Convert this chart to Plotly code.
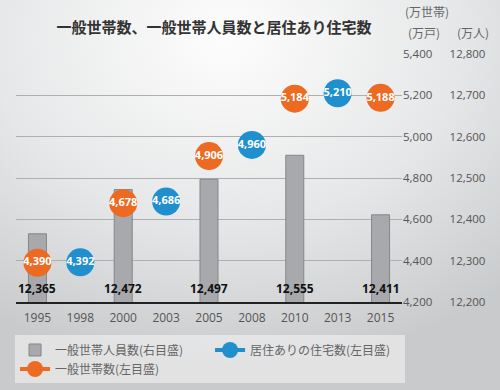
import plotly.graph_objects as go

years = ["1995", "1998", "2000", "2003", "2005", "2008", "2010", "2013", "2015"]
# 一般世帯人員数 (万人) – right axis
members = [12365, None, 12472, None, 12497, None, 12555, None, 12411]
# 居住ありの住宅数 (万戸) – left axis
housing = [None, 4392, None, 4686, None, 4960, None, 5210, None]
# 一般世帯数 (万世帯) – left axis
households = [4390, None, 4678, None, 4906, None, 5184, None, 5188]

left_ticks = [4200, 4400, 4600, 4800, 5000, 5200, 5400]
right_ticks = [12200, 12300, 12400, 12500, 12600, 12700, 12800]

BLUE = "#1f8fce"
ORANGE = "#ec6a21"
FONT = "Noto Sans CJK JP, Noto Sans, sans-serif"
NUMFONT = "Open Sans"

def fmt(v):
    return "" if v is None else f"{v:,}"

fig = go.Figure()

# bars on the base y axis (drawn underneath), scatter on overlaying y2
fig.add_trace(go.Bar(
    x=years, y=members, yaxis="y", name="一般世帯人員数(右目盛)",
    marker=dict(color="#a8a9ac", line=dict(color="#86878a", width=1)),
    width=0.42,
))
fig.add_trace(go.Scatter(
    x=years, y=housing, yaxis="y2", name="居住ありの住宅数(左目盛)",
    mode="lines+markers+text", connectgaps=False,
    line=dict(color=BLUE, width=4),
    marker=dict(color=BLUE, size=28),
    text=[fmt(v) for v in housing], textposition="middle center",
    textfont=dict(color="white", size=11, family=NUMFONT, weight="bold"),
))
fig.add_trace(go.Scatter(
    x=years, y=households, yaxis="y2", name="一般世帯数(左目盛)",
    mode="lines+markers+text", connectgaps=False,
    line=dict(color=ORANGE, width=4),
    marker=dict(color=ORANGE, size=28),
    text=[fmt(v) for v in households], textposition="middle center",
    textfont=dict(color="white", size=11, family=NUMFONT, weight="bold"),
))

annotations = []
for i, v in enumerate(members):
    if v is not None:
        annotations.append(dict(
            x=i, y=right_ticks[0], xref="x", yref="y", text=f"{v:,}",
            showarrow=False, yanchor="bottom", yshift=3,
            font=dict(family=NUMFONT, size=12, color="#111", weight="bold"),
        ))

for text, x, y in [("(万世帯)", 0.86, 1.17), ("(万戸)", 0.853, 1.085), ("(万人)", 0.956, 1.085)]:
    annotations.append(dict(text=text, x=x, y=y, xref="paper", yref="paper",
                            xanchor="center", yanchor="middle",
                            showarrow=False, font=dict(family=FONT, size=12, color="#666")))

bg_svg = (
    "data:image/svg+xml;utf8,"
    "<svg xmlns='http://www.w3.org/2000/svg' width='500' height='390'>"
    "<defs><radialGradient id='g' cx='0.45' cy='0.1' r='0.85'>"
    "<stop offset='0' stop-color='%23fdfdfd'/>"
    "<stop offset='0.55' stop-color='%23e6e7e8'/>"
    "<stop offset='1' stop-color='%23c9cacc'/>"
    "</radialGradient></defs>"
    "<rect width='500' height='390' fill='url(%23g)'/></svg>"
)

fig.update_layout(
    width=500, height=390,
    margin=dict(l=16, r=6, t=54, b=88, autoexpand=False),
    paper_bgcolor="#dfe0e1", plot_bgcolor="rgba(0,0,0,0)",
    images=[dict(source=bg_svg, xref="paper", yref="paper", x=-16/478, y=1 + 54/248,
                 sizex=500/478, sizey=390/248, xanchor="left", yanchor="top",
                 sizing="stretch", layer="below")],
    title=dict(text="<b>一般世帯数、一般世帯人員数と居住あり住宅数</b>",
               x=0.428, xanchor="center", y=0.928, yanchor="middle",
               font=dict(family=FONT, size=15, color="#333")),
    font=dict(family=FONT, color="#555"),
    showlegend=True,
    legend=dict(orientation="h", x=-0.002, xanchor="left", y=-0.135, yanchor="top",
                bgcolor="rgba(245,245,245,0.55)", entrywidth=150, entrywidthmode="pixels",
                font=dict(family=FONT, size=12, color="#666"),
                tracegroupgap=0),
    xaxis=dict(type="category", categoryorder="array", categoryarray=years,
               range=[-0.5, len(years) - 0.5], autorange=False,
               domain=[0, 386/478], showline=True, linecolor="#222", linewidth=2,
               showgrid=False, ticks="", ticklabelstandoff=4,
               tickfont=dict(family=NUMFONT, size=12, color="#555")),
    yaxis=dict(range=[right_ticks[0], right_ticks[-1]], tickvals=right_ticks, tickformat=",",
               side="right", anchor="free", position=0.905,
               showgrid=True, gridcolor="#aeafb1", gridwidth=1,
               zeroline=False, ticks="",
               tickfont=dict(family=NUMFONT, size=11.5, color="#555")),
    yaxis2=dict(range=[left_ticks[0], left_ticks[-1]], tickvals=left_ticks, tickformat=",",
                overlaying="y", side="right", anchor="x",
                showgrid=False, zeroline=False, ticks="",
                tickfont=dict(family=NUMFONT, size=11.5, color="#555")),
    annotations=annotations,
)

fig.write_html("out.html", config={"displayModeBar": False},
               post_script="document.body.style.margin='0';")
